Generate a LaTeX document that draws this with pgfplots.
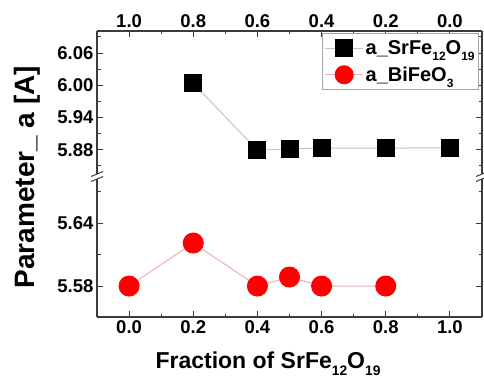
\documentclass[border=0pt]{standalone}
\usepackage{fontspec}
\setmainfont{Liberation Sans}
\usepackage{graphicx}
\usepackage{pgfplots}
\pgfplotsset{compat=1.18}
\newcommand\sub[1]{\raisebox{-0.6ex}{\scalebox{0.6}{#1}}}
\definecolor{sqline}{RGB}{195,195,195}
\definecolor{ciline}{RGB}{242,175,175}
\definecolor{axc}{RGB}{60,60,60}
\pgfplotsset{
  common/.style={
    scale only axis, width=385pt,
    xmin=-0.1, xmax=1.1,
    xtick={0,0.2,0.4,0.6,0.8,1.0},
    minor xtick={0.1,0.3,0.5,0.7,0.9},
    tick align=inside,
    major tick length=6pt, minor tick length=3.5pt,
    axis line style={line width=1.1pt, axc},
    every tick/.style={line width=1pt, axc},
    tick label style={font=\bfseries\fontsize{18.5}{20}\selectfont},
    /pgf/number format/assume math mode=true,
    clip=false,
    legend image code/.code={\draw[mark repeat=2,mark phase=2,##1] plot coordinates {(0pt,0pt) (19pt,0pt) (38pt,0pt)};},
  }
}
\begin{document}
\begin{tikzpicture}[x=1pt,y=1pt]
\path[use as bounding box] (0,0) rectangle (484,381);
\begin{axis}[common, at={(97pt,207pt)}, anchor=south west, height=143pt,
  axis x line*=top, axis y line*=box,
  ymin=5.835, ymax=6.101,
  ytick={5.88,5.94,6.00,6.06},
  minor ytick={5.85,5.91,5.97,6.03,6.09},
  yticklabel style={/pgf/number format/.cd, fixed, fixed zerofill, precision=2},
  xticklabels={1.0,0.8,0.6,0.4,0.2,0.0},
  legend style={at={(rel axis cs:0.992,0.986)}, anchor=north east, draw=gray!70, line width=0.6pt,
    font=\bfseries\fontsize{20}{21}\selectfont, inner xsep=2pt, inner ysep=5pt, row sep=7pt},
  legend cell align=left,
]
\addplot[sqline, line width=1pt, mark=square*, mark size=8.5pt, mark options={fill=black, draw=black, solid}]
  coordinates {(0.2,6.0037) (0.4,5.879) (0.5,5.882) (0.6,5.883) (0.8,5.883) (1.0,5.884)};
\addlegendentry{a\_SrFe\sub{12}O\sub{19}}
\addlegendimage{ciline, line width=1pt, mark=*, mark size=9pt, mark options={fill=red, draw=red, solid}}
\addlegendentry{a\_BiFeO\sub{3}}
\end{axis}
\begin{axis}[common, at={(97pt,64pt)}, anchor=south west, height=138pt,
  axis x line*=bottom, axis y line*=box,
  ymin=5.5505, ymax=5.682,
  ytick={5.58,5.64},
  minor ytick={5.61,5.67},
  yticklabel style={/pgf/number format/.cd, fixed, fixed zerofill, precision=2},
  xticklabel style={/pgf/number format/.cd, fixed, fixed zerofill, precision=1},
]
\addplot[ciline, line width=1pt, mark=*, mark size=10pt, mark options={fill=red, draw=red, solid}]
  coordinates {(0.0,5.58) (0.2,5.621) (0.4,5.58) (0.5,5.5886) (0.6,5.58) (0.8,5.58)};
\end{axis}
\draw[line width=1pt, axc] (91,204.5) -- (103,209.5);
\draw[line width=1pt, axc] (91,199.5) -- (103,204.5);
\draw[line width=1pt, axc] (476,204.5) -- (488,209.5);
\draw[line width=1pt, axc] (476,199.5) -- (488,204.5);
\node[font=\bfseries\fontsize{23}{26}\selectfont, anchor=base] at (268,13) {Fraction of SrFe\sub{12}O\sub{19}};
\node[rotate=90, font=\bfseries\fontsize{28}{30}\selectfont] at (27,204) {Parameter\_ a [A]};
\end{tikzpicture}
\end{document}
